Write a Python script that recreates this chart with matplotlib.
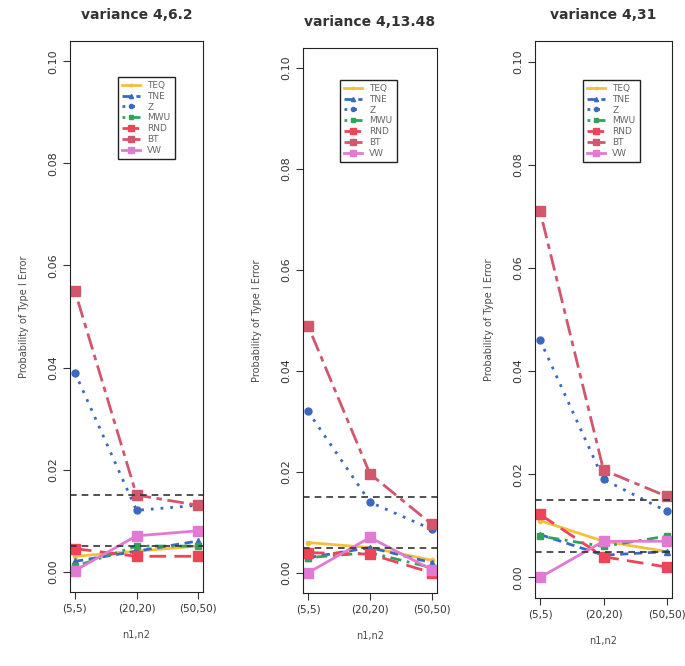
import matplotlib.pyplot as plt
import numpy as np

# sample sizes and the three variance settings
groups = ['(5,5)', '(20,20)', '(50,50)']
titles = ['variance 4,6.2', 'variance 4,13.48', 'variance 4,31']
tests = ['TEQ', 'TNE', 'Z', 'MWU', 'RND', 'BT', 'VW']

# type I error per test, one list per panel
teq = [[0.003, 0.004, 0.005], [0.006, 0.005, 0.0025], [0.011, 0.007, 0.005]]
tne = [[0.002, 0.004, 0.006], [0.003, 0.005, 0.002], [0.0083, 0.0043, 0.005]]
z = [[0.039, 0.012, 0.013], [0.032, 0.014, 0.0086], [0.046, 0.019, 0.0128]]
mwu = [[0.001, 0.005, 0.005], [0.003, 0.004, 0.001], [0.008, 0.006, 0.008]]
rnd = [[0.0045, 0.003, 0.003], [0.004, 0.0037, 0.0], [0.0122, 0.004, 0.002]]
bt = [[0.055, 0.015, 0.013], [0.049, 0.0196, 0.0096], [0.071, 0.0208, 0.0157]]
vw = [[0.0002, 0.007, 0.008], [0.0, 0.007, 0.0006], [0.0, 0.007, 0.007]]
series = [teq, tne, z, mwu, rnd, bt, vw]

# Bradley's limits
upper_lim = 0.015
lower_lim = 0.005

colors = ['#f2c13c', '#3b68c0', '#3b68c0', '#2fa35c', '#ec4558', '#d2566c', '#e17ad2']
styles = ['-', (0, (3, 2)), (0, (1, 2.5)), (0, (1, 2, 4, 2)), (0, (6, 3)), (0, (2, 2, 6, 2)), '-']
markers = ['o', '^', 'o', 's', 's', 's', 's']
msizes = [3, 5, 5, 5, 6.5, 6.5, 6.5]

# axes boxes in pixels (left, right, top, bottom) - the scan is slightly skewed
boxes = [(70, 203, 41, 592), (303, 437, 48, 593), (535, 672, 41, 598)]
leg_pos = [(113, 72), (335, 75), (578, 75)]

W, H = 685, 666
fig = plt.figure(figsize=(W / 100, H / 100), dpi=100)
txt = '#4a4a4a'

x = np.arange(1, 4)
for k in range(3):
    l, r, t, b = boxes[k]
    ax = fig.add_axes([l / W, 1 - b / H, (r - l) / W, (b - t) / H])
    for i, name in enumerate(tests):
        ax.plot(x, series[i][k], color=colors[i], linestyle=styles[i], lw=2,
                marker=markers[i], ms=msizes[i], label=name)
    ax.axhline(upper_lim, color='#333333', ls=(0, (4, 3)), lw=1.2)
    ax.axhline(lower_lim, color='#333333', ls=(0, (4, 3)), lw=1.2)
    ax.set_xlim(0.92, 3.08)
    ax.set_ylim(-0.004, 0.104)
    ax.set_xticks(x)
    ax.set_xticklabels(groups, fontsize=7.5, color=txt)
    ax.set_yticks([0.0, 0.02, 0.04, 0.06, 0.08, 0.10])
    ax.set_yticklabels(['0.00', '0.02', '0.04', '0.06', '0.08', '0.10'],
                       fontsize=8, color=txt, rotation=90, va='center')
    ax.tick_params(colors='#333333', length=5)
    for s in ax.spines.values():
        s.set_color('#222222')
    ax.set_xlabel('n1,n2', fontsize=7, color=txt, labelpad=12)
    ax.set_ylabel('Probability of Type I Error', fontsize=7, color=txt, labelpad=14)
    ax.set_title(titles[k], fontsize=10, fontweight='bold', color='#333333', pad=16)
    lx, ly = leg_pos[k]
    leg = ax.legend(loc='upper left',
                    bbox_to_anchor=((lx - l) / (r - l), (b - ly) / (b - t)),
                    fontsize=6.5, handlelength=2.0, handletextpad=0.8, labelspacing=0.2,
                    markerscale=0.6, fancybox=False, edgecolor='#222222',
                    framealpha=1, borderpad=0.5, labelcolor='#666666')
    leg.get_frame().set_linewidth(1.0)

plt.savefig('out.png', dpi=100)
